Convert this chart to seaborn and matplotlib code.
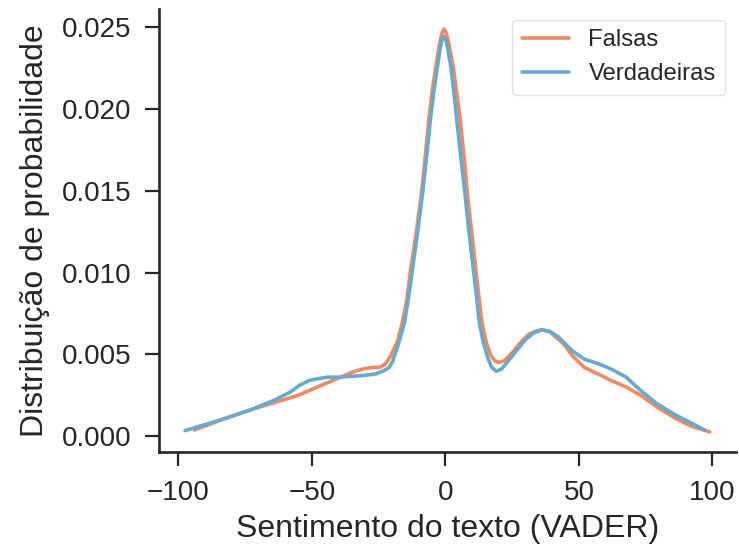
import matplotlib
matplotlib.use("Agg")
import matplotlib.pyplot as plt
import seaborn as sns
import pandas as pd

# Falsas (fake news) sentiment density curve
falsas_x = [-94, -82, -73, -61, -55, -48, -40, -35, -31, -27.5, -24.7, -22.5, -20.5, -18, -16.2, -14.5,
            -13.2, -11, -9, -7.5, -6.2, -5, -3.7, -2.2, -1.4, -0.6, 0.2, 1, 3.0, 4.2, 5.5, 7, 8.2, 10,
            11.5, 12.6, 13.7, 15.3, 17.1, 18.5, 20, 22, 25, 28, 31, 33.5, 36, 39, 41, 44.5, 47.6, 52,
            57.7, 62, 67.7, 73, 79, 86, 92, 99]
falsas_y = [0.00037, 0.0011, 0.0016, 0.0022, 0.0025, 0.0030, 0.00355, 0.0039, 0.0041, 0.0042, 0.0042,
            0.0044, 0.0049, 0.0058, 0.0069, 0.0083, 0.0100, 0.0124, 0.0148, 0.0172, 0.0194, 0.0211,
            0.0225, 0.0240, 0.0246, 0.0249, 0.0247, 0.0242, 0.0225, 0.0210, 0.0194, 0.0170, 0.0148,
            0.0122, 0.0100, 0.0084, 0.0069, 0.0057, 0.0049, 0.0046, 0.0045, 0.0046, 0.0051, 0.0057,
            0.0062, 0.0064, 0.0065, 0.0064, 0.0061, 0.0056, 0.0049, 0.0042, 0.00375, 0.0034, 0.0030,
            0.0025, 0.0018, 0.0011, 0.0006, 0.00025]

# Verdadeiras (true news) sentiment density curve
verdadeiras_x = [-97.5, -82, -73, -64, -58, -54.7, -51, -48, -44, -40, -31, -26, -23, -21, -19.7, -17.5,
                 -15.4, -14, -12.5, -10.5, -8.6, -7, -5.6, -4.4, -3.1, -2, -1.4, -0.8, 0, 0.6, 2.1, 3.1,
                 4.2, 5.8, 7.3, 9, 10.6, 11.7, 12.7, 14.2, 15.8, 17.3, 19, 21, 23, 27, 30, 33, 36, 39,
                 42, 44.5, 47.6, 52, 57.7, 62, 67.7, 73, 79, 86, 92, 97]
verdadeiras_y = [0.00033, 0.0011, 0.0016, 0.0022, 0.0027, 0.0031, 0.0034, 0.0035, 0.0036, 0.0036, 0.0037,
                 0.0038, 0.0040, 0.0042, 0.0046, 0.0057, 0.0069, 0.0083, 0.0100, 0.0124, 0.0148, 0.0172,
                 0.0194, 0.0210, 0.0225, 0.0237, 0.0242, 0.02446, 0.0243, 0.0239, 0.0225, 0.0211, 0.0194,
                 0.0170, 0.0148, 0.0122, 0.0100, 0.0084, 0.0069, 0.0057, 0.0048, 0.0042, 0.00396, 0.0041,
                 0.0045, 0.0053, 0.0059, 0.0063, 0.0065, 0.0064, 0.0061, 0.0057, 0.0052, 0.0047, 0.0044,
                 0.0041, 0.0036, 0.0028, 0.0020, 0.0013, 0.0008, 0.00037]

series_names = ["Falsas", "Verdadeiras"]
colors = ["#ef8a62", "#67a9cf"]
x_ticks = [-100, -50, 0, 50, 100]
y_ticks = [0.000, 0.005, 0.010, 0.015, 0.020, 0.025]

df = pd.concat([
    pd.DataFrame({"x": falsas_x, "y": falsas_y, "serie": series_names[0]}),
    pd.DataFrame({"x": verdadeiras_x, "y": verdadeiras_y, "serie": series_names[1]}),
], ignore_index=True)

sns.set_theme(style="ticks")
plt.rcParams["font.family"] = ["Liberation Sans", "DejaVu Sans"]
text_color = "#262626"

fig = plt.figure(figsize=(7.39, 5.54), dpi=100)
ax = fig.add_axes([0.215, 0.184, 0.781, 0.800])

sns.lineplot(data=df, x="x", y="y", hue="serie", palette=colors, hue_order=series_names,
             sort=False, linewidth=2.6, ax=ax, estimator=None)
for ln in ax.get_lines():
    ln.set_solid_joinstyle("round")
    ln.set_solid_capstyle("round")

ax.set_xticks(x_ticks)
ax.set_yticks(y_ticks)
ax.set_yticklabels([f"{v:.3f}" for v in y_ticks])
ax.set_xticklabels([str(v).replace("-", "\u2212") for v in x_ticks])
ax.tick_params(axis="both", labelsize=20, length=10, width=1.6, colors=text_color, pad=10)
for s in ["left", "bottom"]:
    ax.spines[s].set_linewidth(1.9)
    ax.spines[s].set_color(text_color)
sns.despine(ax=ax)

ax.set_xlabel("Sentimento do texto (VADER)", fontsize=23, color=text_color, labelpad=6)
ax.set_ylabel("Distribuição de probabilidade", fontsize=23, color=text_color, labelpad=8)

handles, labels = ax.get_legend_handles_labels()
leg = ax.legend(handles, labels, loc="upper right", fontsize=17.2, frameon=True,
                fancybox=True, edgecolor="#dddddd", title=None, handlelength=2.0,
                borderaxespad=0.45)
for h in leg.get_lines():
    h.set_linewidth(2.6)
for t in leg.get_texts():
    t.set_color(text_color)

fig.savefig("out.png", dpi=100)
